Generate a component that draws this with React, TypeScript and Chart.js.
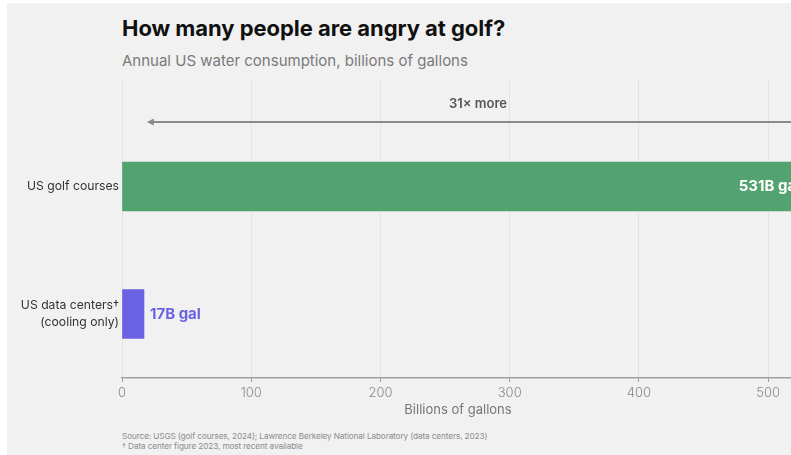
import React, { useEffect, useRef } from "react";
import { Chart, registerables } from "chart.js";

Chart.register(...registerables);

// ---- data ----
const categories: (string | string[])[] = ["US golf courses", ["US data centers\u2020", "(cooling only)"]];
const categoryIndex = [0, 1];
const waterBillions = [531, 17];
const valueLabels = ["531B gal", "17B gal"];
const barColors = ["#52a36f", "#6a63e3"];
const xTicks = [0, 100, 200, 300, 400, 500];
const xMin = 0;
const xMax = 520;
const yMin = -0.835;
const yMax = 1.502;
const arrowFromValue = 531;
const arrowToValue = 20;
const arrowRow = -0.506;
const arrowLabelRow = -0.647;
const arrowLabel = `${Math.round(waterBillions[0] / waterBillions[1])}\u00d7 more`;

const FONT = "Inter, 'Noto Sans', sans-serif";

const annotations = {
  id: "annotations",
  afterDatasetsDraw(chart: any) {
    const ctx = chart.ctx as CanvasRenderingContext2D;
    const meta = chart.getDatasetMeta(0);
    const xs = chart.scales.x;
    const ys = chart.scales.y;
    ctx.save();
    // value labels
    meta.data.forEach((bar: any, i: number) => {
      ctx.font = `700 15px ${FONT}`;
      ctx.textBaseline = "middle";
      if (i === 0) {
        ctx.fillStyle = "#ffffff";
        ctx.textAlign = "right";
        ctx.fillText(valueLabels[i], bar.x - 8, bar.y);
      } else {
        ctx.fillStyle = barColors[i];
        ctx.textAlign = "left";
        ctx.fillText(valueLabels[i], bar.x + 6, bar.y);
      }
    });
    // arrow
    const ay = ys.getPixelForValue(arrowRow);
    const x1 = xs.getPixelForValue(arrowToValue);
    const x2 = xs.getPixelForValue(arrowFromValue);
    ctx.strokeStyle = "#8a8a8a";
    ctx.fillStyle = "#8a8a8a";
    ctx.lineWidth = 2;
    ctx.beginPath();
    ctx.moveTo(x2, ay);
    ctx.lineTo(x1 + 3, ay);
    ctx.stroke();
    ctx.beginPath();
    ctx.moveTo(x1 - 1, ay);
    ctx.lineTo(x1 + 6, ay - 3.5);
    ctx.lineTo(x1 + 6, ay + 3.5);
    ctx.closePath();
    ctx.fill();
    // arrow label
    ctx.font = `600 13px ${FONT}`;
    ctx.fillStyle = "#555555";
    ctx.textAlign = "center";
    ctx.textBaseline = "middle";
    ctx.fillText(arrowLabel, (x1 + x2) / 2, ys.getPixelForValue(arrowLabelRow));
    ctx.restore();
  },
};

export default function App() {
  const ref = useRef<HTMLCanvasElement>(null);
  useEffect(() => {
    if (!ref.current) return;
    const chart = new Chart(ref.current, {
      type: "bar",
      data: {
        datasets: [
          {
            data: waterBillions.map((v, i) => ({ x: v, y: categoryIndex[i] })),
            backgroundColor: barColors,
            borderWidth: 0,
            barThickness: 49,
            clip: false as any,
          },
        ],
      },
      options: {
        responsive: false,
        animation: false,
        indexAxis: "y",
        layout: { padding: { top: 10, right: 113, bottom: 0, left: 0 } },
        plugins: { legend: { display: false }, tooltip: { enabled: false } },
        scales: {
          x: {
            type: "linear",
            min: xMin,
            max: xMax,
            afterBuildTicks: (s: any) => {
              s.ticks = xTicks.map((v) => ({ value: v }));
            },
            afterFit: (s: any) => {
              s.height = 52;
              s.paddingLeft = 0;
              s.paddingRight = 0;
            },
            ticks: {
              color: "#8a8a8a",
              font: { family: FONT, size: 13, weight: "300" },
              padding: 3,
              maxRotation: 0,
            },
            grid: { color: "#e4e4e4", lineWidth: 1, tickLength: 4, tickColor: "#a0a0a0" },
            border: { color: "#a0a0a0", width: 1.5 },
            title: {
              display: true,
              text: "Billions of gallons",
              color: "#777777",
              font: { family: FONT, size: 13 },
              padding: { top: 0, bottom: 12 },
            },
          },
          y: {
            type: "linear",
            reverse: true,
            offset: false,
            min: yMin,
            max: yMax,
            afterBuildTicks: (s: any) => {
              s.ticks = categoryIndex.map((v) => ({ value: v }));
            },
            afterFit: (s: any) => {
              s.width = 115;
              s.paddingTop = 0;
              s.paddingBottom = 0;
            },
            ticks: {
              autoSkip: false,
              color: "#333333",
              font: { family: FONT, size: 12.2, lineHeight: 1.45 },
              padding: 3,
              callback: (v: any) => categories[v as number] as any,
            },
            grid: { display: false, drawTicks: false },
            border: { display: false },
          },
        },
      },
      plugins: [annotations],
    });
    return () => chart.destroy();
  }, []);

  return (
    <div style={{ position: "fixed", inset: 0, overflow: "hidden", background: "#ffffff" }}>
      <div
        style={{
          position: "absolute",
          left: 7,
          top: 3,
          width: 1000,
          height: 470,
          background: "#f1f1f1",
          fontFamily: FONT,
        }}
      >
        <div
          style={{
            position: "absolute",
            left: 115,
            top: 14,
            fontSize: 22,
            lineHeight: "22px",
            fontWeight: 700,
            letterSpacing: "-0.05px",
            color: "#111111",
            whiteSpace: "nowrap",
          }}
        >
          How many people are angry at golf?
        </div>
        <div
          style={{
            position: "absolute",
            left: 115,
            top: 50,
            fontSize: 15,
            lineHeight: "15px",
            color: "#7a7a7a",
            whiteSpace: "nowrap",
          }}
        >
          Annual US water consumption, billions of gallons
        </div>
        <div style={{ position: "absolute", left: 0, top: 67, width: 900, height: 360 }}>
          <canvas ref={ref} width={900} height={360} style={{ display: "block" }} />
        </div>
        <div
          style={{
            position: "absolute",
            left: 115,
            top: 428,
            fontSize: 8.2,
            lineHeight: "10px",
            color: "#8c8c8c",
            whiteSpace: "nowrap",
            letterSpacing: "-0.1px",
          }}
        >
          <div>Source: USGS (golf courses, 2024); Lawrence Berkeley National Laboratory (data centers, 2023)</div>
          <div>{"\u2020 Data center figure 2023, most recent available"}</div>
        </div>
      </div>
    </div>
  );
}
